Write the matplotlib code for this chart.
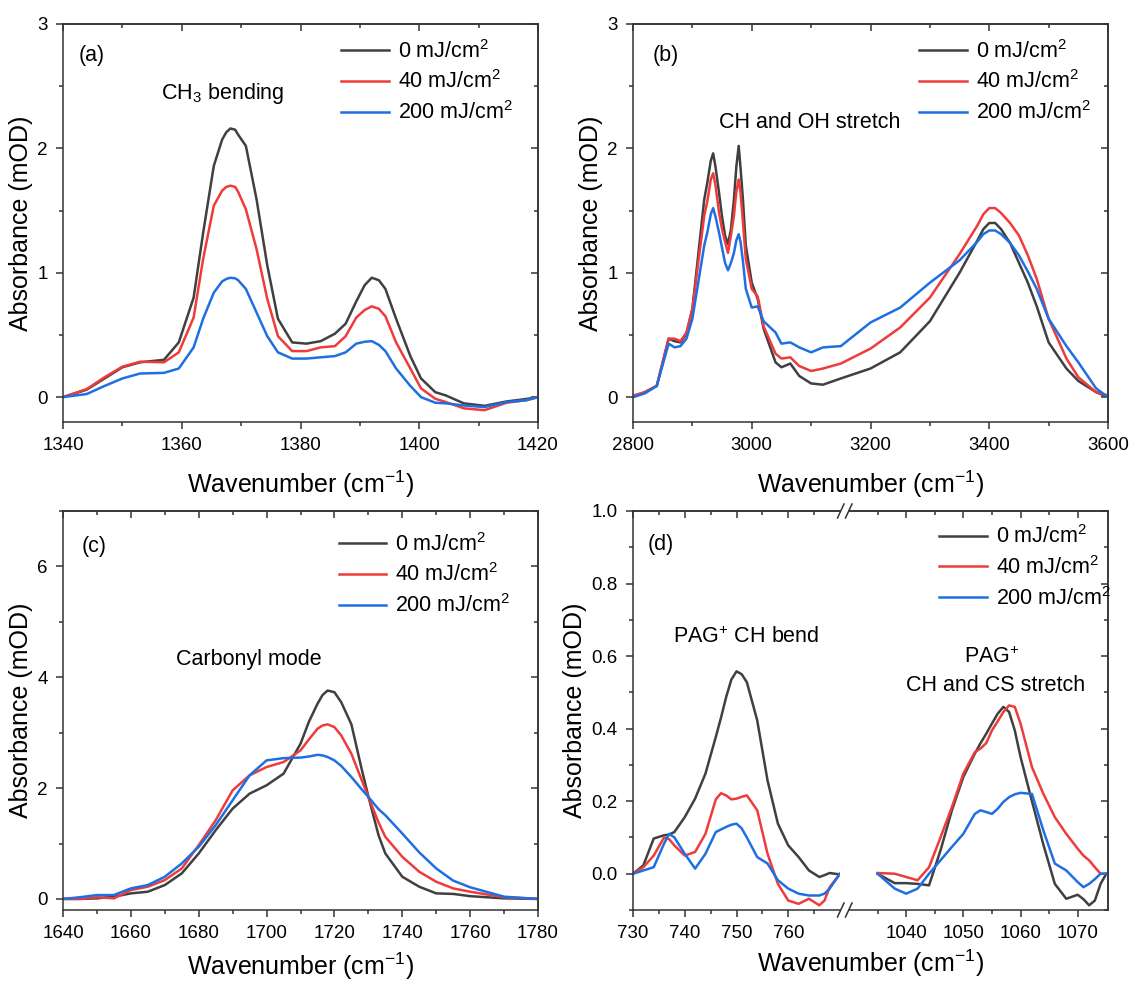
import numpy as np
import matplotlib
matplotlib.use("Agg")
import matplotlib.pyplot as plt
from matplotlib.ticker import MultipleLocator, FixedLocator
from matplotlib.lines import Line2D

plt.rcParams['font.family'] = ['Liberation Sans', 'DejaVu Sans']
plt.rcParams['mathtext.fontset'] = 'custom'
plt.rcParams['mathtext.rm'] = 'Liberation Sans'
plt.rcParams['mathtext.it'] = 'Liberation Sans:italic'
plt.rcParams['mathtext.bf'] = 'Liberation Sans:bold'
plt.rcParams['axes.linewidth'] = 1.1
plt.rcParams['axes.edgecolor'] = '#333333'

# colours / labels for the three doses
colors = ['#404040', '#ef3b3b', '#1f6fe3']
labels = ['0 mJ/cm$^2$', '40 mJ/cm$^2$', '200 mJ/cm$^2$']

# panel (a) - CH3 bending
xa = [1340, 1344, 1347, 1350, 1353, 1357, 1359.5, 1362, 1363.6, 1365.4, 1366.8, 1367.5, 1368.2,
      1369, 1369.5, 1370.8, 1372.6, 1374.4, 1376.2, 1378.6, 1381, 1383.4, 1385.8, 1387.6, 1389.4,
      1390.8, 1392, 1393.2, 1394.3, 1396.1, 1398.5, 1400.3, 1402.7, 1404.5, 1407.5, 1411, 1414.7,
      1418, 1420]
a0 = [0, 0.06, 0.15, 0.24, 0.28, 0.30, 0.44, 0.80, 1.32, 1.86, 2.07, 2.13, 2.16,
      2.15, 2.11, 2.02, 1.59, 1.06, 0.63, 0.44, 0.43, 0.45, 0.51, 0.59, 0.77,
      0.90, 0.96, 0.94, 0.87, 0.63, 0.33, 0.15, 0.04, 0.013, -0.05, -0.07, -0.035,
      -0.015, 0]
a40 = [0, 0.065, 0.16, 0.245, 0.285, 0.28, 0.36, 0.64, 1.11, 1.54, 1.66, 1.69, 1.70,
       1.69, 1.65, 1.51, 1.19, 0.79, 0.49, 0.37, 0.37, 0.40, 0.41, 0.49, 0.64,
       0.70, 0.73, 0.71, 0.65, 0.44, 0.23, 0.07, -0.013, -0.04, -0.09, -0.105, -0.045,
       -0.025, 0]
a200 = [0, 0.025, 0.09, 0.15, 0.19, 0.195, 0.23, 0.40, 0.63, 0.84, 0.93, 0.95, 0.96,
        0.955, 0.94, 0.87, 0.68, 0.49, 0.36, 0.31, 0.31, 0.32, 0.33, 0.36, 0.43,
        0.445, 0.45, 0.42, 0.37, 0.23, 0.09, 0.0, -0.045, -0.05, -0.067, -0.08, -0.04,
        -0.025, 0]

# panel (b) - CH and OH stretch
xb = [2800, 2820, 2840, 2860, 2870, 2880, 2890, 2900, 2920, 2925, 2931, 2935, 2939, 2945, 2950,
      2955, 2960, 2965, 2970, 2974, 2978, 2981, 2985, 2990, 3000, 3010, 3020, 3040, 3050, 3065,
      3080, 3100, 3120, 3150, 3200, 3250, 3300, 3350, 3380, 3390, 3400, 3410, 3420, 3435, 3450,
      3465, 3480, 3500, 3530, 3550, 3580, 3600]
b0 = [0, 0.04, 0.09, 0.47, 0.45, 0.44, 0.51, 0.71, 1.59, 1.72, 1.90, 1.96, 1.85, 1.64, 1.45,
      1.30, 1.23, 1.35, 1.59, 1.85, 2.02, 1.85, 1.60, 1.22, 0.92, 0.79, 0.55, 0.28, 0.24, 0.27,
      0.17, 0.11, 0.10, 0.15, 0.23, 0.36, 0.61, 1.00, 1.26, 1.35, 1.40, 1.40, 1.35, 1.24, 1.08,
      0.92, 0.73, 0.44, 0.23, 0.13, 0.04, 0]
b40 = [0.013, 0.04, 0.09, 0.47, 0.47, 0.45, 0.52, 0.71, 1.46, 1.57, 1.75, 1.80, 1.70, 1.48, 1.35,
       1.25, 1.16, 1.30, 1.46, 1.65, 1.75, 1.65, 1.42, 1.11, 0.87, 0.81, 0.57, 0.35, 0.31, 0.32,
       0.25, 0.21, 0.23, 0.27, 0.39, 0.56, 0.80, 1.15, 1.38, 1.47, 1.52, 1.52, 1.48, 1.40, 1.30,
       1.14, 0.95, 0.63, 0.31, 0.16, 0.04, 0.013]
b200 = [0, 0.03, 0.09, 0.43, 0.40, 0.41, 0.47, 0.63, 1.22, 1.32, 1.47, 1.52, 1.45, 1.32, 1.20,
        1.08, 1.02, 1.08, 1.16, 1.26, 1.31, 1.25, 1.10, 0.87, 0.72, 0.73, 0.61, 0.52, 0.43, 0.44,
        0.40, 0.36, 0.40, 0.41, 0.60, 0.72, 0.92, 1.10, 1.25, 1.31, 1.34, 1.34, 1.31, 1.24, 1.14,
        1.01, 0.87, 0.63, 0.41, 0.28, 0.07, 0]

# panel (c) - carbonyl mode
xc = [1640, 1645, 1650, 1655, 1660, 1665, 1670, 1675, 1680, 1685, 1690, 1695, 1700, 1705, 1710,
      1712.5, 1715, 1716.5, 1718, 1720, 1722, 1725, 1728, 1730, 1733, 1735, 1740, 1745, 1750,
      1755, 1760, 1770, 1780]
c0 = [0, 0.0, 0.01, 0.04, 0.10, 0.13, 0.25, 0.46, 0.82, 1.24, 1.63, 1.90, 2.05, 2.26, 2.80,
      3.20, 3.52, 3.68, 3.76, 3.73, 3.55, 3.15, 2.35, 1.85, 1.15, 0.82, 0.40, 0.22, 0.10,
      0.09, 0.05, 0.01, 0]
c40 = [0, 0.0, 0.03, 0.01, 0.16, 0.22, 0.34, 0.55, 0.97, 1.42, 1.96, 2.23, 2.38, 2.47, 2.68,
       2.88, 3.07, 3.13, 3.15, 3.10, 2.95, 2.62, 2.15, 1.84, 1.38, 1.12, 0.76, 0.49, 0.31,
       0.19, 0.13, 0.03, 0]
c200 = [0, 0.03, 0.07, 0.07, 0.19, 0.25, 0.40, 0.64, 0.94, 1.33, 1.78, 2.23, 2.50, 2.54, 2.55,
        2.57, 2.60, 2.59, 2.56, 2.50, 2.40, 2.20, 1.98, 1.84, 1.62, 1.51, 1.18, 0.84, 0.55,
        0.33, 0.21, 0.04, 0]

# panel (d) - PAG+ bands, left part of broken axis
xd1 = [730, 732, 734, 736, 737, 738, 740, 742, 744, 746, 747, 748, 749, 750, 751, 752, 754, 756,
       758, 760, 762, 764, 766, 767, 768, 770]
d1_0 = [0, 0.023, 0.097, 0.106, 0.108, 0.115, 0.156, 0.207, 0.276, 0.377, 0.43, 0.487, 0.535,
        0.558, 0.55, 0.528, 0.423, 0.257, 0.138, 0.078, 0.046, 0.009, -0.009, -0.004, 0.002,
        -0.002]
d1_40 = [0, 0.018, 0.05, 0.10, 0.095, 0.078, 0.05, 0.06, 0.11, 0.205, 0.222, 0.216, 0.205,
         0.207, 0.212, 0.216, 0.175, 0.055, -0.028, -0.074, -0.083, -0.069, -0.087, -0.074,
         -0.037, 0]
d1_200 = [0, 0.009, 0.018, 0.083, 0.11, 0.10, 0.055, 0.014, 0.055, 0.115, 0.122, 0.129, 0.135,
          0.138, 0.125, 0.10, 0.046, 0.028, -0.018, -0.041, -0.055, -0.06, -0.06, -0.055,
          -0.041, 0]

# right part of broken axis
xd2 = [1035, 1038, 1040, 1042, 1044, 1046, 1048, 1050, 1052, 1053, 1054, 1055, 1056, 1057, 1058,
       1059, 1060, 1062, 1064, 1066, 1068, 1070, 1071, 1072, 1073, 1074, 1075]
d2_0 = [0, -0.026, -0.026, -0.028, -0.032, 0.064, 0.175, 0.267, 0.331, 0.36, 0.386, 0.414, 0.441,
        0.46, 0.446, 0.395, 0.322, 0.20, 0.08, -0.028, -0.069, -0.058, -0.07, -0.087, -0.074,
        -0.028, 0]
d2_40 = [0.002, 0, -0.009, -0.018, 0.018, 0.10, 0.184, 0.276, 0.335, 0.345, 0.36, 0.395, 0.42,
         0.446, 0.464, 0.46, 0.414, 0.294, 0.22, 0.156, 0.11, 0.069, 0.05, 0.037, 0.018, 0, 0]
d2_200 = [0, -0.041, -0.055, -0.041, 0.0, 0.037, 0.074, 0.11, 0.165, 0.175, 0.17, 0.165, 0.179,
          0.198, 0.211, 0.219, 0.223, 0.22, 0.119, 0.028, 0.009, -0.023, -0.037, -0.028, -0.015,
          0, 0]

W, H = 1130, 982
fig = plt.figure(figsize=(W / 100, H / 100), dpi=100)

def px_axes(x0, y0, x1, y1, **kw):
    # pixel box (top-left origin) -> figure axes
    return fig.add_axes([x0 / W, 1 - y1 / H, (x1 - x0) / W, (y1 - y0) / H], **kw)

TICK_FS = 13.5
LABEL_FS = 18
NOTE_FS = 15.5
LEG_FS = 15.5

def style(ax, xmaj, xmin, ymaj, ymin, left=True, right=True):
    ax.xaxis.set_major_locator(xmaj)
    ax.xaxis.set_minor_locator(xmin)
    ax.yaxis.set_major_locator(ymaj)
    ax.yaxis.set_minor_locator(ymin)
    ax.tick_params(which='both', direction='out', width=1.1, color='#333333',
                   labelsize=TICK_FS, pad=6, top=False, right=False, left=left, labelleft=left)
    ax.tick_params(which='major', length=5)
    ax.tick_params(which='minor', length=2.8)
    # mirrored ticks pointing inward
    sx = ax.secondary_xaxis('top')
    sx.xaxis.set_major_locator(xmaj)
    sx.xaxis.set_minor_locator(xmin)
    sx.tick_params(which='both', direction='in', labeltop=False, width=1.1, color='#333333')
    sx.tick_params(which='major', length=5)
    sx.tick_params(which='minor', length=2.8)
    if right:
        sy = ax.secondary_yaxis('right')
        sy.yaxis.set_major_locator(ymaj)
        sy.yaxis.set_minor_locator(ymin)
        sy.tick_params(which='both', direction='in', labelright=False, width=1.1, color='#333333')
        sy.tick_params(which='major', length=5)
        sy.tick_params(which='minor', length=2.8)

def draw(ax, x, series):
    lines = []
    for y, c, lab in zip(series, colors, labels):
        ln, = ax.plot(x, y, color=c, lw=1.8, label=lab, solid_joinstyle='round')
        lines.append(ln)
    return lines

def legend(ax, handles, fx, fy):
    ax.legend(handles=handles, loc='upper left', bbox_to_anchor=(fx, fy), frameon=False,
              fontsize=LEG_FS, borderpad=0, borderaxespad=0, handlelength=2.2,
              handletextpad=0.42, labelspacing=0.36)

xlab = 'Wavenumber (cm$^{-1}$)'
ylab = 'Absorbance (mOD)'

# (a)
ax = px_axes(63, 24, 538, 422)
h = draw(ax, xa, [a0, a40, a200])
ax.set_xlim(1340, 1420)
ax.set_ylim(-0.2, 3)
style(ax, MultipleLocator(20), MultipleLocator(10), MultipleLocator(1), MultipleLocator(0.5))
ax.set_xlabel(xlab, fontsize=LABEL_FS, labelpad=10)
ax.set_ylabel(ylab, fontsize=LABEL_FS, labelpad=3)
ax.text(0.060, 0.922, '(a)', transform=ax.transAxes, fontsize=NOTE_FS, ha='center', va='center')
ax.text(0.336, 0.826, 'CH$_3$ bending', transform=ax.transAxes, fontsize=NOTE_FS, ha='center', va='center')
legend(ax, h, 0.586, 0.960)

# (b)
ax = px_axes(633, 24, 1108, 422)
h = draw(ax, xb, [b0, b40, b200])
ax.set_xlim(2800, 3600)
ax.set_ylim(-0.2, 3)
style(ax, MultipleLocator(200), MultipleLocator(100), MultipleLocator(1), MultipleLocator(0.5))
ax.set_xlabel(xlab, fontsize=LABEL_FS, labelpad=10)
ax.set_ylabel(ylab, fontsize=LABEL_FS, labelpad=3)
ax.text(0.069, 0.922, '(b)', transform=ax.transAxes, fontsize=NOTE_FS, ha='center', va='center')
ax.text(0.373, 0.753, 'CH and OH stretch', transform=ax.transAxes, fontsize=NOTE_FS, ha='center', va='center')
legend(ax, h, 0.603, 0.960)

# (c)
ax = px_axes(63, 511, 538, 910)
h = draw(ax, xc, [c0, c40, c200])
ax.set_xlim(1640, 1780)
ax.set_ylim(-0.2, 7)
style(ax, MultipleLocator(20), MultipleLocator(10), MultipleLocator(2), MultipleLocator(1))
ax.set_xlabel(xlab, fontsize=LABEL_FS, labelpad=6)
ax.set_ylabel(ylab, fontsize=LABEL_FS, labelpad=3)
ax.text(0.065, 0.912, '(c)', transform=ax.transAxes, fontsize=NOTE_FS, ha='center', va='center')
ax.text(0.392, 0.629, 'Carbonyl mode', transform=ax.transAxes, fontsize=NOTE_FS, ha='center', va='center')
legend(ax, h, 0.580, 0.945)

# (d) broken x axis: two segments
axl = px_axes(633, 511, 840, 910)
h = draw(axl, xd1, [d1_0, d1_40, d1_200])
axl.set_xlim(730, 770)
axl.set_ylim(-0.1, 1.0)
style(axl, FixedLocator([730, 740, 750, 760]), FixedLocator([735, 745, 755, 765]),
      MultipleLocator(0.2), MultipleLocator(0.1), right=False)
axl.spines['right'].set_visible(False)
axl.set_ylabel(ylab, fontsize=LABEL_FS, labelpad=3)

axr = px_axes(849, 511, 1108, 910)
draw(axr, xd2, [d2_0, d2_40, d2_200])
axr.set_xlim(1030, 1075.3)
axr.set_ylim(-0.1, 1.0)
style(axr, FixedLocator([1040, 1050, 1060, 1070]), FixedLocator([1035, 1045, 1055, 1065]),
      MultipleLocator(0.2), MultipleLocator(0.1), left=False)
axr.spines['left'].set_visible(False)

# overlay for shared labels, notes and legend of panel (d)
axo = px_axes(633, 511, 1108, 910)
axo.set_axis_off()
axo.patch.set_alpha(0)
fig.text((633 + 1108) / 2 / W, 1 - 963 / H, xlab, fontsize=LABEL_FS, ha='center', va='center')
axo.text(0.059, 0.917, '(d)', transform=axo.transAxes, fontsize=NOTE_FS, ha='center', va='center')
axo.text(0.239, 0.683, 'PAG$^{+}$ CH bend', transform=axo.transAxes, fontsize=NOTE_FS, ha='center', va='center')
axo.text(0.756, 0.633, 'PAG$^{+}$', transform=axo.transAxes, fontsize=NOTE_FS, ha='center', va='center')
axo.text(0.764, 0.563, 'CH and CS stretch', transform=axo.transAxes, fontsize=NOTE_FS, ha='center', va='center')
legend(axo, h, 0.645, 0.964)

# break marks "//" on top and bottom spines
for yb in (511, 910):
    for xb0 in (837.5, 845.5):
        fig.add_artist(Line2D([xb0 / W, (xb0 + 6.5) / W], [1 - (yb + 7) / H, 1 - (yb - 7) / H],
                              color='#333333', lw=1.1))

fig.savefig('out.png', dpi=100)
